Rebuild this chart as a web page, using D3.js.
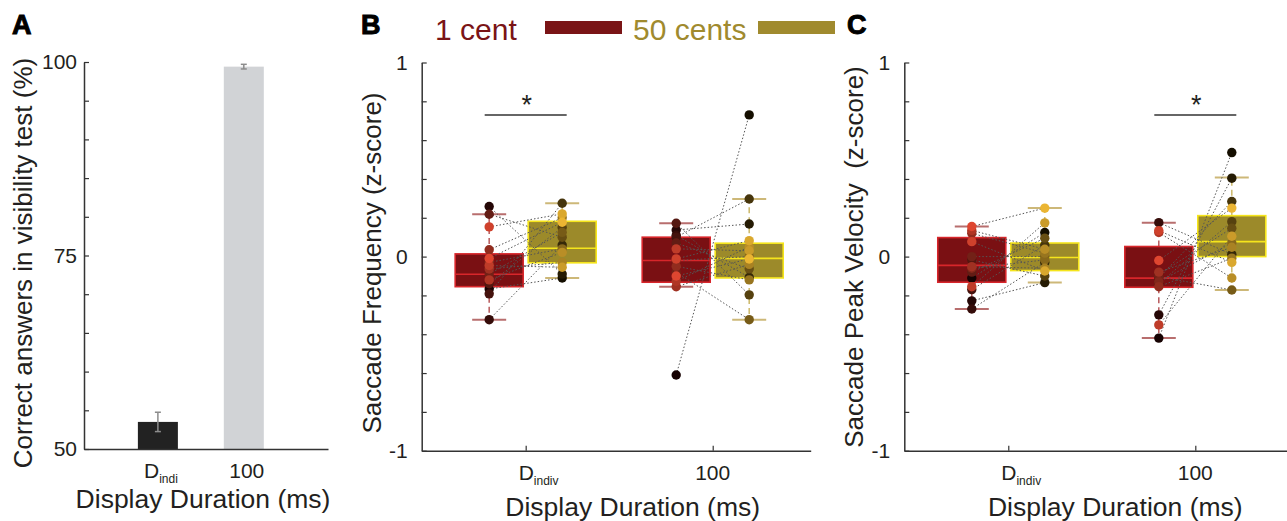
<!DOCTYPE html>
<html lang="en">
<head>
<meta charset="UTF-8" />
<title>visibility test and saccades</title>
<style>
  body { margin: 0; background: #fff; }
  svg { display: block; font-family: "Liberation Sans", Arial, sans-serif; }
</style>
</head>
<body>
<svg width="1287" height="521" xmlns="http://www.w3.org/2000/svg"></svg>
<script src="https://cdn.jsdelivr.net/npm/d3@7"></script>
<script>
  // panel A: visibility test
  const visCategories = ["D", "100"];
  const visValues = [53.5, 99.4];
  const visErrors = [1.25, 0.3];
  const visTicks = [50, 75, 100];

  // panels B, C: one value per subject, [Dindiv, 100]
  const durations = ["D", "100"];
  const zTicks = [-1, 0, 1];
  const rewards = ["1 cent", "50 cents"];

  const freq1cent = [
    [-0.167, 0.258, -0.325, -0.192, -0.14, 0.218, -0.09, -0.03, 0.035, -0.064, -0.12, -0.046, 0.153, -0.01],
    [-0.61, 0.137, 0.11, 0.1, 0.172, 0.07, -0.08, -0.02, -0.05, -0.155, -0.127, 0.04, -0.012, -0.1]
  ];
  const freq50cents = [
    [-0.11, -0.09, 0.06, 0.275, 0.15, 0.1, 0.125, 0.04, 0.2, -0.03, 0.022, -0.055, 0.22, 0.177],
    [0.73, 0.168, -0.107, 0.297, -0.197, -0.063, -0.325, 0.0, -0.12, -0.04, 0.05, 0.03, 0.082, -0.012]
  ];
  // [lower whisker, q1, median, q3, upper whisker]
  const freqBox1cent = [[-0.325, -0.155, -0.091, 0.014, 0.218], [-0.155, -0.132, -0.02, 0.1, 0.172]];
  const freqBox50cents = [[-0.11, -0.032, 0.043, 0.182, 0.275], [-0.325, -0.11, -0.009, 0.069, 0.297]];

  const velo1cent = [
    [-0.11, -0.228, -0.27, -0.17, -0.017, -0.08, 0.0, -0.06, 0.12, -0.052, 0.135, -0.155, 0.077, 0.155],
    [-0.42, -0.3, 0.175, -0.11, -0.14, -0.09, -0.103, -0.129, -0.155, -0.08, 0.124, -0.352, 0.134, -0.02]
  ];
  const velo50cents = [
    [0.124, -0.134, -0.03, 0.06, -0.1, 0.095, 0.0, -0.017, 0.018, -0.06, 0.038, 0.174, -0.074, 0.25],
    [0.536, 0.404, 0.012, 0.284, 0.18, 0.146, -0.172, 0.07, -0.008, 0.048, -0.11, 0.105, -0.03, 0.25]
  ];
  const veloBox1cent = [[-0.27, -0.132, -0.045, 0.098, 0.155], [-0.42, -0.158, -0.111, 0.052, 0.175]];
  const veloBox50cents = [[-0.134, -0.072, -0.005, 0.07, 0.25], [-0.172, 0.0, 0.077, 0.211, 0.407]];

  const svg = d3.select("svg");
  const ink = "#231f20";

  const styles = [
    { fill: "#7a1013", stroke: "#d8262b", whisker: "#b85a5c", cap: "#b86e6e", dots: ["#160202", "#de4630"] },
    { fill: "#9c8a2a", stroke: "#f5e51c", whisker: "#cdb96a", cap: "#cdb878", dots: ["#140e00", "#ebb532"] }
  ];

  function styleAxis(g) {
    g.select(".domain").attr("stroke", "#333").attr("stroke-width", 1.5);
    g.selectAll(".tick line").attr("stroke", "#333").attr("stroke-width", 1.2);
    g.selectAll(".tick text").attr("fill", ink).style("font-size", "21px")
      .style("font-family", "'Liberation Sans', Arial, sans-serif");
  }

  function panelLetter(x, txt) {
    svg.append("text").attr("x", x).attr("y", 34).text(txt)
      .attr("fill", "#000").attr("stroke", "#000").attr("stroke-width", 1)
      .style("font-size", "27px").style("font-weight", "bold");
  }

  // ---------- panel A ----------
  const yA = d3.scaleLinear().domain([50, 100]).range([449, 62]);
  const xA = d3.scaleLinear().domain([0.14, 2.98]).range([84, 328]);
  const gA = svg.append("g");
  const barColors = ["#222222", "#d1d3d6"];

  gA.selectAll(".bar").data(visValues).join("rect")
    .attr("class", "bar")
    .attr("x", (d, i) => xA(i + 1) - 20).attr("width", 40)
    .attr("y", d => yA(d)).attr("height", d => yA(50) - yA(d))
    .attr("fill", (d, i) => barColors[i]);

  const err = gA.selectAll(".err").data(visValues).join("g").attr("class", "err")
    .attr("stroke", "#8c8c8c").attr("stroke-width", 1.5);
  err.append("line").attr("x1", (d, i) => xA(i + 1)).attr("x2", (d, i) => xA(i + 1))
    .attr("y1", (d, i) => yA(d - visErrors[i])).attr("y2", (d, i) => yA(d + visErrors[i]));
  [-1, 1].forEach(s => {
    err.append("line").attr("x1", (d, i) => xA(i + 1) - 3).attr("x2", (d, i) => xA(i + 1) + 3)
      .attr("y1", (d, i) => yA(d + s * visErrors[i])).attr("y2", (d, i) => yA(d + s * visErrors[i]));
  });

  gA.append("g").attr("transform", "translate(84,0)")
    .call(d3.axisLeft(yA).tickValues(d3.range(50, 101, 5)).tickSize(-5).tickSizeOuter(0).tickPadding(7)
      .tickFormat(d => visTicks.includes(d) ? d : ""))
    .call(styleAxis);
  gA.append("g").attr("transform", "translate(0,449)")
    .call(d3.axisBottom(xA).tickValues([]).tickSizeOuter(0))
    .call(styleAxis);

  visCategories.forEach((c, i) => {
    const t = gA.append("text").attr("x", xA(i + 1) + 3).attr("y", 478)
      .attr("text-anchor", "middle").attr("fill", ink).style("font-size", "21px").text(c);
    if (c === "D") t.append("tspan").attr("dy", 5).style("font-size", "12px").text("indi");
  });
  gA.append("text").attr("x", 203).attr("y", 508).attr("text-anchor", "middle")
    .attr("fill", ink).style("font-size", "26.5px").text("Display Duration (ms)");
  gA.append("text").attr("transform", "translate(32,263) rotate(-90)").attr("text-anchor", "middle")
    .attr("fill", ink).style("font-size", "26px").text("Correct answers in visibility test (%)");
  panelLetter(12, "A");

  // ---------- panels B and C ----------
  function boxPanel(ox, data, boxes, ylabel, ylabelY, sigIdx) {
    const g = svg.append("g");
    const x = d3.scaleLinear().domain([0.444, 2.524]).range([ox, ox + 389]);
    const y = d3.scaleLinear().domain([-1, 1]).range([450.7, 62.5]);
    const off = [-36.5, 36.5];
    const bw = 68;

    g.append("g").attr("transform", `translate(${ox},0)`)
      .call(d3.axisLeft(y).tickValues(d3.range(11).map(i => -1 + i * 0.2)).tickSize(-5).tickSizeOuter(0)
        .tickPadding(14)
        .tickFormat(d => zTicks.some(t => Math.abs(t - d) < 1e-6) ? String(Math.round(d)) : ""))
      .call(styleAxis);
    g.append("g").attr("transform", "translate(0,450.7)")
      .call(d3.axisBottom(x).tickValues([1, 2]).tickSize(-5).tickSizeOuter(0).tickFormat(""))
      .call(styleAxis);

    durations.forEach((c, i) => {
      const t = g.append("text").attr("y", 480).attr("fill", ink).style("font-size", "21px").text(c);
      if (c === "D") {
        t.attr("x", x(i + 1) - 7);
        t.append("tspan").attr("dy", 5).style("font-size", "12px").text("indiv");
      } else {
        t.attr("x", x(i + 1)).attr("text-anchor", "middle");
      }
    });
    g.append("text").attr("x", ox + 211).attr("y", 516).attr("text-anchor", "middle")
      .attr("fill", ink).style("font-size", "26.5px").text("Display Duration (ms)");
    g.append("text").attr("transform", `translate(${ox - 41},${ylabelY}) rotate(-90)`)
      .attr("text-anchor", "middle").attr("fill", ink).style("font-size", "26px")
      .style("white-space", "pre").text(ylabel);

    // boxes and whiskers
    durations.forEach((c, di) => {
      boxes.forEach((bx, ri) => {
        const [lo, q1, med, q3, hi] = bx[di];
        const cx = x(di + 1) + off[ri];
        const st = styles[ri];
        g.append("line").attr("x1", cx).attr("x2", cx).attr("y1", y(q3)).attr("y2", y(hi))
          .attr("stroke", st.whisker).attr("stroke-width", 1.5).attr("stroke-dasharray", "6,4");
        g.append("line").attr("x1", cx).attr("x2", cx).attr("y1", y(q1)).attr("y2", y(lo))
          .attr("stroke", st.whisker).attr("stroke-width", 1.5).attr("stroke-dasharray", "6,4");
        [lo, hi].forEach(v => g.append("line").attr("x1", cx - 17).attr("x2", cx + 17)
          .attr("y1", y(v)).attr("y2", y(v)).attr("stroke", st.cap).attr("stroke-width", 2));
        g.append("rect").attr("x", cx - bw / 2).attr("width", bw)
          .attr("y", y(q3)).attr("height", y(q1) - y(q3))
          .attr("fill", st.fill).attr("stroke", st.stroke).attr("stroke-width", 1.6);
        g.append("line").attr("x1", cx - bw / 2).attr("x2", cx + bw / 2)
          .attr("y1", y(med)).attr("y2", y(med)).attr("stroke", st.stroke).attr("stroke-width", 1.6);
      });
    });

    // paired subject lines
    durations.forEach((c, di) => {
      const a = data[0][di], b = data[1][di];
      g.selectAll(null).data(a).join("line")
        .attr("x1", x(di + 1) + off[0]).attr("x2", x(di + 1) + off[1])
        .attr("y1", d => y(d)).attr("y2", (d, i) => y(b[i]))
        .attr("stroke", "#555").attr("stroke-width", 1).attr("stroke-dasharray", "1.5,2");
    });

    // subject dots
    durations.forEach((c, di) => {
      data.forEach((vals, ri) => {
        const col = d3.scaleLinear().domain([0, vals[di].length - 1]).range(styles[ri].dots);
        g.selectAll(null).data(vals[di]).join("circle")
          .attr("cx", x(di + 1) + off[ri]).attr("cy", d => y(d)).attr("r", 4.7)
          .attr("fill", (d, i) => col(i));
      });
    });

    // significance
    const sy = y(0.73);
    g.append("line").attr("x1", x(sigIdx + 1) - 41).attr("x2", x(sigIdx + 1) + 41)
      .attr("y1", sy).attr("y2", sy).attr("stroke", "#333").attr("stroke-width", 1.5);
    g.append("text").attr("x", x(sigIdx + 1) + 1).attr("y", sy - 1).attr("text-anchor", "middle")
      .attr("fill", ink).style("font-size", "27px").text("*");
  }

  boxPanel(421.7, [freq1cent, freq50cents], [freqBox1cent, freqBox50cents],
    "Saccade Frequency (z-score)", 263, 0);
  boxPanel(904.3, [velo1cent, velo50cents], [veloBox1cent, veloBox50cents],
    "Saccade Peak Velocity  (z-score)", 257, 1);
  panelLetter(361, "B");
  panelLetter(847, "C");

  // legend
  const legendColors = ["#7a1416", "#a08a2e"];
  const legendX = [[435, 545], [633, 758]];
  rewards.forEach((r, i) => {
    svg.append("text").attr("x", legendX[i][0]).attr("y", 40).attr("fill", legendColors[i])
      .style("font-size", "30px").text(r);
    svg.append("rect").attr("x", legendX[i][1]).attr("y", 21).attr("width", 77).attr("height", 13)
      .attr("fill", legendColors[i]);
  });
</script>
</body>
</html>
